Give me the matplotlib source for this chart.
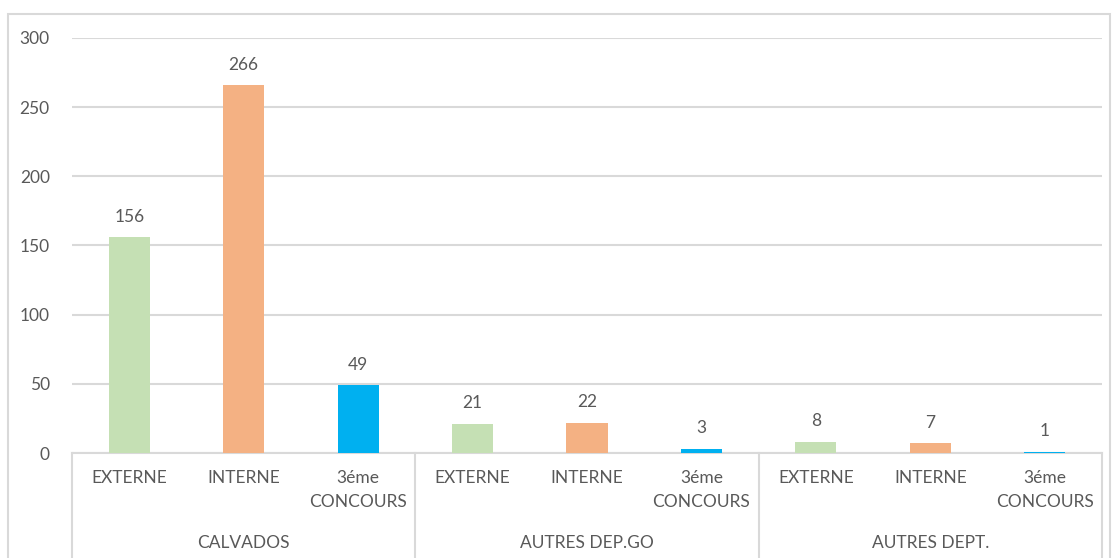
import matplotlib.pyplot as plt
from matplotlib.patches import Rectangle

# données
groupes = ["CALVADOS", "AUTRES DEP.GO", "AUTRES DEPT."]
concours = ["EXTERNE", "INTERNE", "3éme\nCONCOURS"]
valeurs = [156, 266, 49, 21, 22, 3, 8, 7, 1]
couleurs = ["#C5E0B4", "#F4B183", "#00B0F0"]

gris_texte = "#595959"
gris_ligne = "#D9D9D9"

plt.rcParams['font.family'] = ['Lato', 'DejaVu Sans']

fig = plt.figure(figsize=(11.16, 5.58), dpi=100)
ax = fig.add_axes([72 / 1116, 1 - 453 / 558, 1030 / 1116, 415 / 558])

# cadre du graphique
fig.patches.append(Rectangle((8 / 1116, -0.01), 1102 / 1116, 1 - 14 / 558 + 0.01,
                             transform=fig.transFigure, fill=False,
                             edgecolor=gris_ligne, linewidth=1.5))

n = len(concours)
x = list(range(len(valeurs)))
cols = [couleurs[i % n] for i in x]

ax.bar(x, valeurs, width=0.36, color=cols, zorder=3)

for xi, v in zip(x, valeurs):
    ax.annotate(str(v), (xi, v), xytext=(0, 9), textcoords="offset points",
                ha="center", va="bottom", fontsize=12.5, color=gris_texte)

ax.set_xlim(-0.5, len(valeurs) - 0.5)
ax.set_ylim(0, 300)
ax.set_yticks(range(0, 301, 50))
ax.tick_params(axis="y", length=0, pad=16, labelsize=12.5, labelcolor=gris_texte)
ax.set_xticks([])
ax.grid(axis="y", color=gris_ligne, linewidth=1.5, zorder=0)
for s in ["top", "right", "left"]:
    ax.spines[s].set_visible(False)
ax.spines["bottom"].set_color(gris_ligne)
ax.spines["bottom"].set_linewidth(1.5)

# axe des catégories à deux niveaux
tr = ax.get_xaxis_transform()
for g in range(len(groupes) + 1):
    xs = g * n - 0.5
    ax.plot([xs, xs], [0, -0.26], transform=tr, color=gris_ligne,
            linewidth=1.5, clip_on=False)

for xi in x:
    ax.text(xi, -0.042, concours[xi % n], transform=tr, ha="center", va="top",
            fontsize=12.5, color=gris_texte, linespacing=1.6)

for g, nom in enumerate(groupes):
    ax.text(g * n + (n - 1) / 2, -0.217, nom, transform=tr, ha="center",
            va="center", fontsize=12.5, color=gris_texte)

fig.savefig("out.png", dpi=100)
